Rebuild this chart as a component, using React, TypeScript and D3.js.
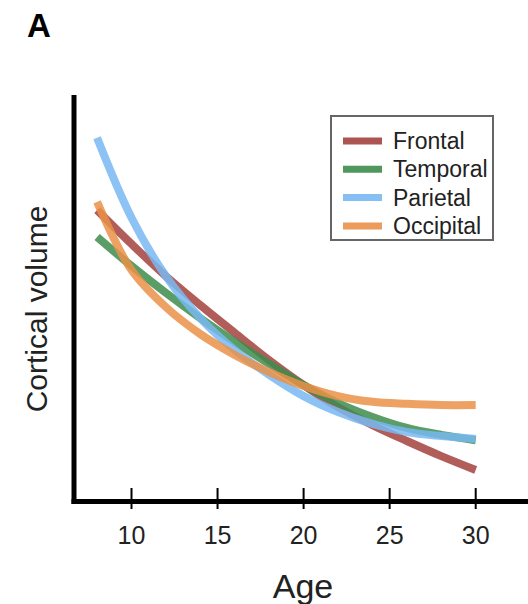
import React from "react";
import * as d3 from "d3";

const ages = [8, 10, 12, 14, 16, 18, 20, 22, 24, 26, 28, 30];
const frontal = [71.8, 63.5, 55.6, 48.5, 41.7, 35.0, 28.9, 23.5, 19.1, 15.2, 11.5, 8.1];
const temporal = [65.2, 58.1, 51.5, 45.3, 39.5, 34.1, 28.9, 24.5, 21.1, 18.4, 16.7, 15.4];
const parietal = [89.5, 69.9, 55.6, 45.3, 37.5, 31.4, 26.2, 22.3, 19.4, 17.4, 16.4, 15.7];
const occipital = [73.8, 57.1, 48.0, 41.4, 36.3, 32.1, 28.7, 26.2, 24.8, 24.3, 24.0, 24.0];
const seriesNames = ["Frontal", "Temporal", "Parietal", "Occipital"];
const seriesColors = ["#a3413c", "#3d8c4c", "#78b8f2", "#ea9048"];
const xTicks = [10, 15, 20, 25, 30];

const W = 528;
const H = 604;
const FONT = "'Liberation Sans', Arial, Helvetica, sans-serif";

export default function App() {
  const x = d3.scaleLinear().domain([10, 30]).range([131.5, 475.7]);
  const y = d3.scaleLinear().domain([0, 100]).range([503, 95]);
  const seriesValues = [frontal, temporal, parietal, occipital];
  const line = d3
    .line<[number, number]>()
    .x((d) => x(d[0]))
    .y((d) => y(d[1]))
    .curve(d3.curveCatmullRom.alpha(0.5));

  const axisY = 501.5;
  const axisX = 74;

  return (
    <svg
      width={W}
      height={H}
      style={{ position: "absolute", left: 0, top: 0, background: "#fff" }}
    >
      <rect x={0} y={0} width={W} height={H} fill="#fff" />
      <text x={27} y={37} fontFamily={FONT} fontWeight="bold" fontSize={33} fill="#000">
        A
      </text>

      {seriesValues.map((vals, i) => (
        <path
          key={seriesNames[i]}
          d={line(ages.map((a, j) => [a, vals[j]] as [number, number])) || ""}
          fill="none"
          stroke={seriesColors[i]}
          strokeWidth={8}
          strokeOpacity={0.85}
        />
      ))}

      {/* axes */}
      <line x1={axisX} x2={axisX} y1={95} y2={axisY + 2.5} stroke="#000" strokeWidth={5} />
      <line x1={axisX - 2.5} x2={W} y1={axisY} y2={axisY} stroke="#000" strokeWidth={5} />
      {xTicks.map((t) => (
        <g key={t}>
          <line x1={x(t)} x2={x(t)} y1={488} y2={509} stroke="#000" strokeWidth={2} />
          <text
            x={x(t)}
            y={535}
            textAnchor="middle"
            dominantBaseline="central"
            fontFamily={FONT}
            fontSize={25}
            fill="#222"
          >
            {t}
          </text>
        </g>
      ))}
      <text
        x={303}
        y={586}
        textAnchor="middle"
        dominantBaseline="central"
        fontFamily={FONT}
        fontSize={34}
        fill="#222"
      >
        Age
      </text>
      <text
        transform={`translate(36,309) rotate(-90)`}
        textAnchor="middle"
        dominantBaseline="central"
        fontFamily={FONT}
        fontSize={30}
        fill="#222"
      >
        Cortical volume
      </text>

      {/* legend */}
      <rect x={331} y={116} width={162} height={124} fill="#fff" stroke="#666" strokeWidth={2} />
      {seriesNames.map((n, i) => {
        const ly = 141 + i * 28.3;
        return (
          <g key={n}>
            <line
              x1={343}
              x2={382}
              y1={ly}
              y2={ly}
              stroke={seriesColors[i]}
              strokeWidth={7}
              strokeOpacity={0.9}
            />
            <text
              x={393}
              y={ly}
              dominantBaseline="central"
              fontFamily={FONT}
              fontSize={23}
              fill="#222"
            >
              {n}
            </text>
          </g>
        );
      })}
    </svg>
  );
}
